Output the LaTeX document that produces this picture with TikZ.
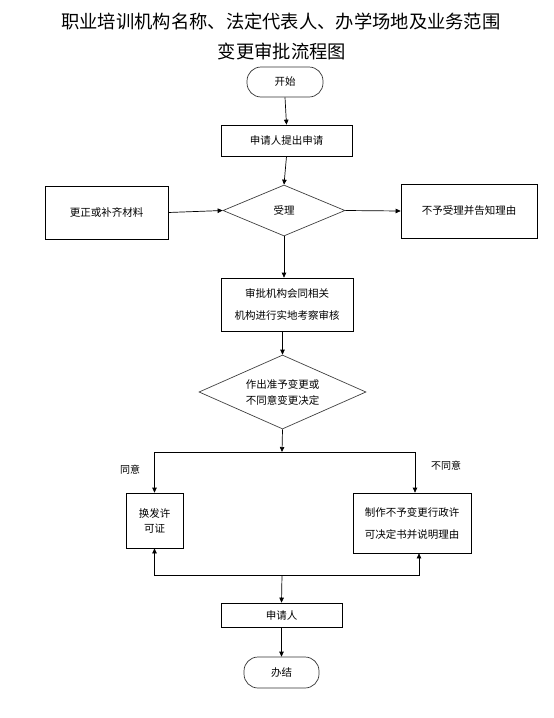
\documentclass[tikz,border=0pt]{standalone}
\usepackage{fontspec}
\setmainfont{Noto Sans CJK SC}
\usetikzlibrary{shapes.geometric,arrows.meta}
\begin{document}
\begin{tikzpicture}[x=1pt,y=-1pt,
  every node/.style={inner sep=0pt,font=\fontsize{10.5}{15}\selectfont,align=center},
  box/.style={draw=black,line width=0.7pt,rectangle},
  term/.style={draw=black!80,line width=0.7pt,rectangle,rounded corners=14pt},
  dia/.style={draw=black!75,line width=0.7pt,diamond,aspect=2.2},
  arr/.style={line width=0.7pt,-{Triangle[length=5pt,width=4.5pt]}},
  ln/.style={line width=0.7pt},
  lbl/.style={font=\fontsize{10}{12}\selectfont}]
\useasboundingbox (0,0) rectangle (554,718);
\node (t1) at (281,21) {\fontsize{18.3}{22}\selectfont 职业培训机构名称、法定代表人、办学场地及业务范围};
\node (t2) at (282,51) {\fontsize{18.3}{22}\selectfont 变更审批流程图};
\node[term,minimum width=76pt,minimum height=30pt] (start) at (285,82) {开始};
\node[box,minimum width=131pt,minimum height=31pt] (apply) at (286.5,140.5) {申请人提出申请};
\node[dia,minimum width=122pt,minimum height=51pt] (accept) at (284,210.5) {受理};
\node[box,minimum width=123pt,minimum height=53pt] (fix) at (106.5,212.5) {更正或补齐材料};
\node[box,minimum width=136pt,minimum height=54pt] (reject) at (469,211) {不予受理并告知理由};
\node[box,minimum width=132pt,minimum height=53pt,font=\fontsize{10.5}{22}\selectfont] (review) at (287,304.5) {审批机构会同相关\\机构进行实地考察审核};
\node[dia,minimum width=167pt,minimum height=74pt,font=\fontsize{10.5}{16}\selectfont] (decide) at (282.5,392) {作出准予变更或\\不同意变更决定};
\node[box,minimum width=57pt,minimum height=55pt] (permit) at (154.5,520.5) {换发许\\可证};
\node[box,minimum width=118pt,minimum height=60pt,font=\fontsize{10.5}{22}\selectfont] (refuse) at (412,523) {制作不予变更行政许\\可决定书并说明理由};
\node[box,minimum width=121pt,minimum height=24pt] (applicant) at (281.5,615) {申请人};
\node[term,minimum width=75pt,minimum height=31pt] (end) at (281.5,672.5) {办结};
\node[lbl] (agree) at (130,470) {同意};
\node[lbl] (disagree) at (446,466) {不同意};
\coordinate (j1) at (282,452);
\coordinate (j2) at (282,575);
\draw[arr] (start.south) -- (apply.north);
\draw[arr] (apply.south) -- (accept.north);
\draw[arr] (fix.east) -- (accept.west);
\draw[arr] (accept.east) -- (reject.west);
\draw[arr] (accept.south) -- (accept.south |- review.north);
\draw[arr] (review.south -| decide.north) -- (decide.north);
\draw[arr] (decide.south) -- (j1);
\draw[arr] (j1) -| (permit.north);
\draw[arr] (j1) -| ([xshift=3pt]refuse.north);
\draw[arr] (j2) -| (permit.south);
\draw[arr] (j2) -| ([xshift=7pt]refuse.south);
\draw[arr] (j2) -- (applicant.north);
\draw[arr] (applicant.south) -- (end.north);
\end{tikzpicture}
\end{document}
